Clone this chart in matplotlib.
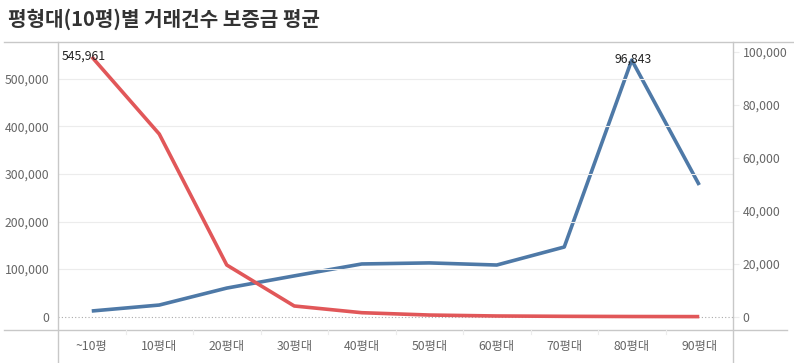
import matplotlib
matplotlib.use("Agg")
import matplotlib.pyplot as plt
from matplotlib.ticker import FuncFormatter

plt.rcParams['font.family'] = ['Noto Sans CJK KR', 'DejaVu Sans']

categories = ["~10평", "10평대", "20평대", "30평대", "40평대", "50평대", "60평대", "70평대", "80평대", "90평대"]
count_values = [545961, 383800, 108600, 22500, 8400, 3500, 1500, 800, 400, 200]
deposit_avg = [2150, 4400, 10800, 15400, 19900, 20300, 19500, 26300, 96843, 49700]

left_ticks = [0, 100000, 200000, 300000, 400000, 500000]
right_ticks = [0, 20000, 40000, 60000, 80000, 100000]

RED = "#e15759"
BLUE = "#4e79a7"
GRID = "#ececec"
AXC = "#c8c8c8"
TXT = "#666666"

fig = plt.figure(figsize=(7.94, 3.63), dpi=100)
ax = fig.add_axes([58/794, 33/363, (733-58)/794, (330-42)/363])
ax2 = ax.twinx()

x = list(range(len(categories)))
ax.set_xlim(-0.5, len(categories) - 0.5)

# align zeros: left scale 47.6px per 100k, right 53px per 20k
left_px = 47.6 / 100000
right_px = 53.0 / 20000
zero_px_from_bottom = 330 - 316.7
ax.set_ylim(-zero_px_from_bottom / left_px, (316.7 - 42) / left_px)
ax2.set_ylim(-zero_px_from_bottom / right_px, (316.7 - 42) / right_px)

for t in left_ticks[1:]:
    ax.axhline(t, color=GRID, lw=0.8, zorder=0)
ax.axhline(0, color="#aaaaaa", lw=0.8, ls=(0, (1, 2)), zorder=1)

ax2.plot(x, deposit_avg, color=BLUE, lw=2.6, solid_capstyle='butt', zorder=3)
ax.plot(x, count_values, color=RED, lw=2.6, solid_capstyle='butt', zorder=3)
ax.set_zorder(ax2.get_zorder() + 1)
ax.patch.set_visible(False)

fmt = FuncFormatter(lambda v, p: f"{int(v):,}")
ax.set_yticks(left_ticks)
ax.yaxis.set_major_formatter(fmt)
ax2.set_yticks(right_ticks)
ax2.yaxis.set_major_formatter(fmt)
ax.tick_params(axis='y', length=0, pad=6, labelsize=8.8, labelcolor=TXT)
ax2.tick_params(axis='y', length=4, color=GRID, pad=3, labelsize=8.8, labelcolor=TXT)

ax.set_xticks(x)
ax.set_xticklabels(categories)
ax.tick_params(axis='x', length=0, pad=7, labelsize=8.8, labelcolor=TXT)
ax2.tick_params(axis='x', length=0)

for a in (ax, ax2):
    for s in a.spines.values():
        s.set_visible(False)

# frame lines
fig.add_artist(plt.Line2D([4/794, 1], [1 - 42/363]*2, color=AXC, lw=1))
fig.add_artist(plt.Line2D([4/794, 787/794], [1 - 330/363]*2, color=AXC, lw=1))
fig.add_artist(plt.Line2D([58/794]*2, [0, 1 - 42/363], color=AXC, lw=1))
fig.add_artist(plt.Line2D([733/794]*2, [0, 1 - 42/363], color=AXC, lw=1))
# category separators
for i in range(1, len(categories)):
    xf = (58 + 67.5 * i) / 794
    fig.add_artist(plt.Line2D([xf]*2, [1 - 330/363, 1 - 334/363], color=GRID, lw=0.8))

# data labels
ax.annotate(f"{count_values[0]:,}", (0, count_values[0]), xytext=(-6, -4),
            textcoords="offset points", ha="center", va="bottom", fontsize=8.8, color="#222222")
imax = deposit_avg.index(max(deposit_avg))
ax2.annotate(f"{deposit_avg[imax]:,}", (imax, deposit_avg[imax]), xytext=(1, -4),
             textcoords="offset points", ha="center", va="bottom", fontsize=8.8, color="#222222", zorder=5)

fig.text(8/794, 1 - 19/363, "평형대(10평)별 거래건수 보증금 평균", fontsize=14.5, fontweight="bold",
         color="#333333", ha="left", va="center")

fig.savefig("out.png", dpi=100)
